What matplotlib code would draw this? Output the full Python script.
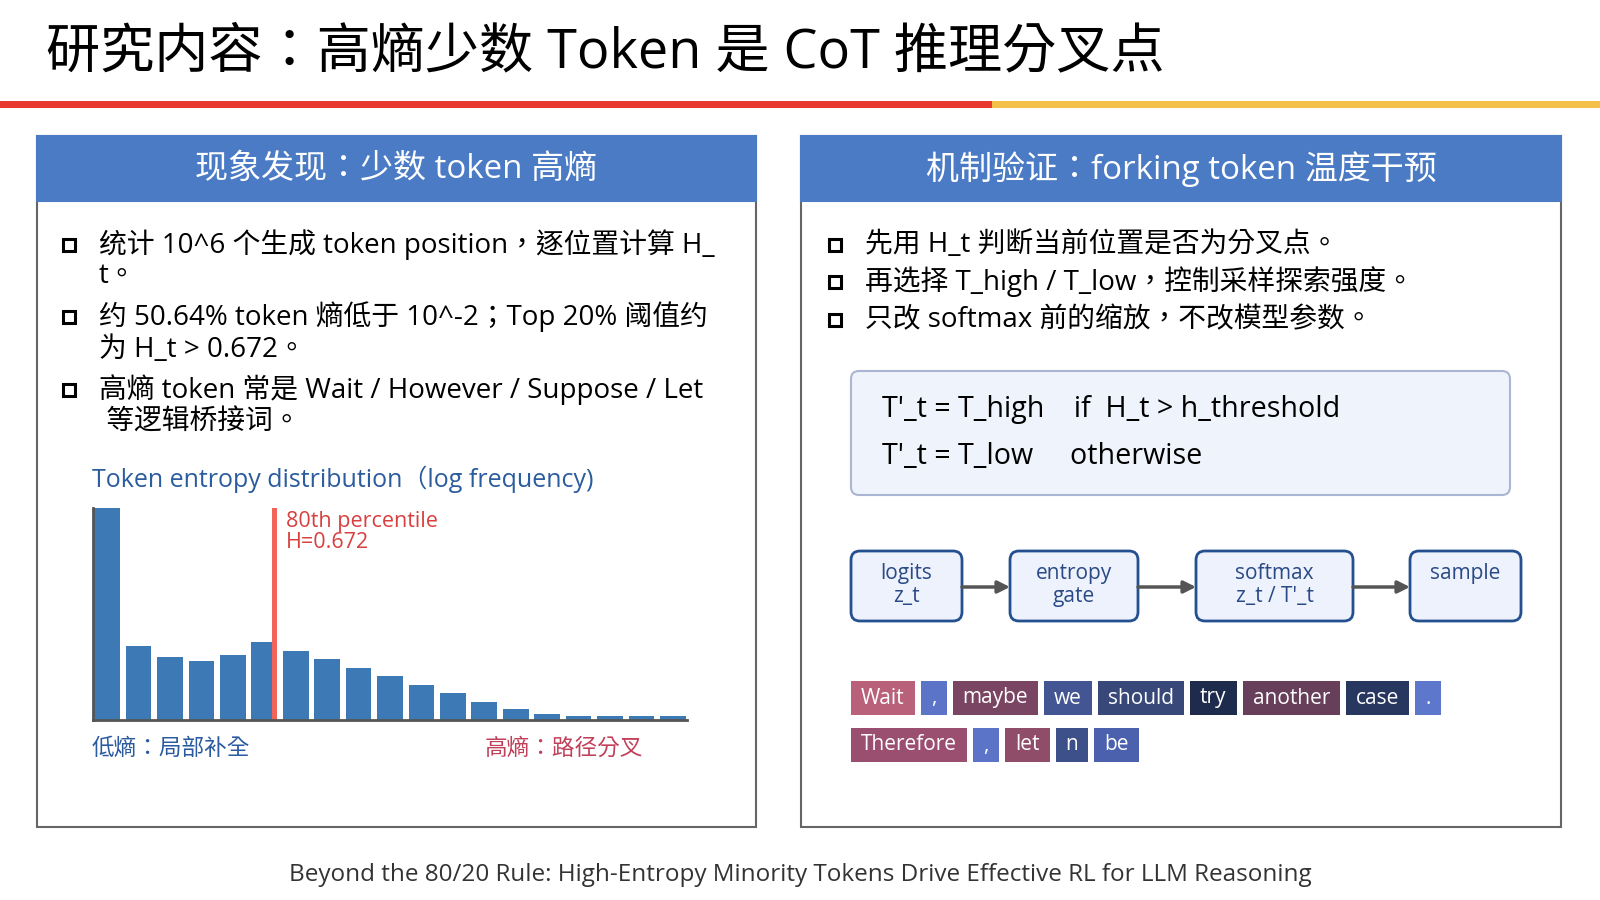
import matplotlib
matplotlib.use("Agg")
import matplotlib.pyplot as plt
from matplotlib.patches import Rectangle, FancyBboxPatch

plt.rcParams['font.family'] = ['Open Sans', 'Noto Sans CJK TC', 'DejaVu Sans']

title = "研究内容：高熵少数 Token 是 CoT 推理分叉点"
left_header = "现象发现：少数 token 高熵"
right_header = "机制验证：forking token 温度干预"
left_bullets = [
    ["统计 10^6 个生成 token position，逐位置计算 H_", "t。"],
    ["约 50.64% token 熵低于 10^-2；Top 20% 阈值约", "为 H_t > 0.672。"],
    ["高熵 token 常是 Wait / However / Suppose / Let", " 等逻辑桥接词。"],
]
right_bullets = [
    "先用 H_t 判断当前位置是否为分叉点。",
    "再选择 T_high / T_low，控制采样探索强度。",
    "只改 softmax 前的缩放，不改模型参数。",
]
formula_lines = ["T'_t = T_high    if  H_t > h_threshold", "T'_t = T_low     otherwise"]
flow_labels = ["logits\nz_t", "entropy\ngate", "softmax\nz_t / T'_t", "sample\n "]
# log frequency per entropy bin
log_freq = [5.33, 1.85, 1.58, 1.48, 1.63, 1.95, 1.73, 1.53, 1.30, 1.10,
            0.88, 0.68, 0.45, 0.28, 0.15, 0.10, 0.10, 0.10, 0.10]
p80_bin = 5.3
tokens_row1 = ["Wait", ",", "maybe", "we", "should", "try", "another", "case", "."]
colors_row1 = ["#b9617b", "#5b74c7", "#7a4562", "#435592", "#374879", "#1f2b4d",
               "#683f5b", "#28375f", "#5d77cc"]
tokens_row2 = ["Therefore", ",", "let", "n", "be"]
colors_row2 = ["#9b4f70", "#5b74c7", "#8f4d69", "#3e508a", "#4b61ae"]
footer = "Beyond the 80/20 Rule: High-Entropy Minority Tokens Drive Effective RL for LLM Reasoning"

fig = plt.figure(figsize=(16, 9), dpi=100)
ax = fig.add_axes([0, 0, 1, 1])
ax.set_xlim(0, 1600)
ax.set_ylim(900, 0)
ax.axis("off")

# title + rule
ax.text(46, 53, title, fontsize=39, va="center", ha="left", color="black")
ax.add_patch(Rectangle((0, 101), 992, 7, color="#e8392c", lw=0))
ax.add_patch(Rectangle((992, 101), 608, 7, color="#f5c04a", lw=0))

# panels
for x0, x1, head in [(37, 756, left_header), (801, 1561, right_header)]:
    ax.add_patch(Rectangle((x0, 136), x1 - x0, 691, fc="white", ec="#666666", lw=1.5))
    ax.add_patch(Rectangle((x0, 136), x1 - x0, 65, fc="#4a7bc4", ec="#4a7bc4", lw=1.5))
    ax.text((x0 + x1) / 2, 169, head, fontsize=23.8, color="white", ha="center", va="center")

def bullet(x, y):
    ax.add_patch(Rectangle((x - 6, y - 6), 12, 12, fc="white", ec="black", lw=2.2))

# left bullets
rows = [(245, 276), (317, 350), (390, 423)]
for lines, (y1, y2) in zip(left_bullets, rows):
    bullet(69, y1)
    ax.text(99, y1, lines[0], fontsize=20, va="center", ha="left", color="black")
    ax.text(99, y2, lines[1], fontsize=20, va="center", ha="left", color="black")

ax.text(92, 479, "Token entropy distribution（log frequency)", fontsize=18,
        va="center", ha="left", color="#2b5c9e")

# histogram
hx = fig.add_axes([93 / 1600, 180 / 900, 594 / 1600, 212 / 900])
hx.bar(range(len(log_freq)), log_freq, width=0.82, color="#3d7ab5")
hx.axvline(p80_bin, color="#f0645c", lw=3.6)
hx.set_xlim(-0.45, len(log_freq) - 0.55)
hx.set_ylim(0, max(log_freq))
hx.set_xticks([])
hx.set_yticks([])
for s in ["top", "right"]:
    hx.spines[s].set_visible(False)
for s in ["left", "bottom"]:
    hx.spines[s].set_color("#555555")
    hx.spines[s].set_linewidth(2)
hx.patch.set_alpha(0)
hx.text(p80_bin + 0.38, max(log_freq) * 0.985, "80th percentile\nH=0.672", color="#d8403f",
        fontsize=15.5, va="top", ha="left", linespacing=1.0)

ax.text(92, 749, "低熵：局部补全", fontsize=16.3, color="#2a5aa0", va="center", ha="left")
ax.text(643, 749, "高熵：路径分叉", fontsize=16.3, color="#c0405a", va="center", ha="right")

# right bullets
for txt, y in zip(right_bullets, [245, 282, 320]):
    bullet(835, y)
    ax.text(865, y, txt, fontsize=20, va="center", ha="left", color="black")

# formula box
ax.add_patch(FancyBboxPatch((851, 371), 659, 124, boxstyle="round,pad=0,rounding_size=8",
                            fc="#eff3fb", ec="#aab6d3", lw=1.5))
for txt, y in zip(formula_lines, [409, 457]):
    ax.text(882, y, txt, fontsize=20.6, va="center", ha="left", color="black")

# flow diagram
boxes = [(851, 962), (1010, 1138), (1196, 1353), (1410, 1521)]
for (bx0, bx1), lab in zip(boxes, flow_labels):
    ax.add_patch(FancyBboxPatch((bx0, 551), bx1 - bx0, 70, boxstyle="round,pad=0,rounding_size=9",
                                fc="#edf2fd", ec="#25508f", lw=2))
    ax.text((bx0 + bx1) / 2, 585, lab, fontsize=15, color="#2a4a86", ha="center", va="center",
            linespacing=1.12)
for (a0, a1), (b0, b1) in zip(boxes[:-1], boxes[1:]):
    ax.annotate("", xy=(b0, 587), xytext=(a1, 587),
                arrowprops=dict(arrowstyle="-|>", color="#555555", lw=2.5, mutation_scale=18,
                                shrinkA=0, shrinkB=0))

# token strips
renderer = fig.canvas.get_renderer()
def token_row(tokens, colors, y0, h=34):
    x = 851
    for tok, c in zip(tokens, colors):
        t = ax.text(0, 0, tok, fontsize=15, color="white", va="center", ha="center")
        w = t.get_window_extent(renderer).width
        bw = max(w + 20, 26)
        ax.add_patch(Rectangle((x, y0), bw, h, fc=c, lw=0))
        t.set_position((x + bw / 2, y0 + h / 2))
        x += bw + 6

token_row(tokens_row1, colors_row1, 681)
token_row(tokens_row2, colors_row2, 728)

ax.text(800, 875, footer, fontsize=17.5, color="#333333", ha="center", va="center")

fig.savefig("out.png", dpi=100)
